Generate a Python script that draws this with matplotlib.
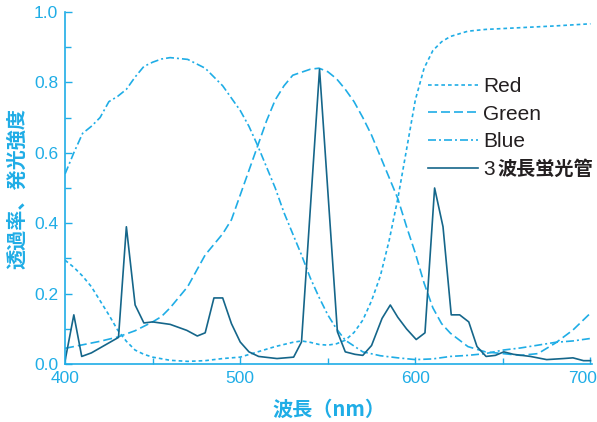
import numpy as np
import matplotlib.pyplot as plt
import matplotlib.transforms as mtransforms
from matplotlib.ticker import MultipleLocator, FormatStrFormatter

CYAN = '#1fade6'
DARK = '#15668a'
TEXT = '#231f20'
CJK = ['Noto Sans CJK JP', 'DejaVu Sans']

# filter transmittance curves (wavelength nm, value)
red_x = [400, 405, 410, 415, 420, 425, 430, 435, 440, 445, 450, 460, 470, 480, 490,
         500, 510, 520, 530, 535, 540, 545, 550, 555, 560, 565, 570, 575, 580, 585,
         590, 595, 600, 605, 610, 615, 620, 630, 640, 660, 680, 700]
red_y = [0.295, 0.275, 0.25, 0.22, 0.18, 0.14, 0.097, 0.065, 0.04, 0.028, 0.02, 0.011,
         0.008, 0.01, 0.016, 0.02, 0.035, 0.05, 0.062, 0.066, 0.062, 0.056, 0.054,
         0.058, 0.068, 0.09, 0.125, 0.18, 0.25, 0.35, 0.47, 0.61, 0.75, 0.84, 0.89,
         0.915, 0.93, 0.945, 0.95, 0.955, 0.96, 0.966]

green_x = [400, 410, 420, 430, 440, 450, 455, 460, 465, 470, 475, 480, 485, 490, 495,
           500, 505, 510, 515, 520, 525, 530, 540, 545, 550, 555, 560, 565, 570, 575,
           580, 585, 590, 595, 600, 605, 610, 615, 620, 630, 640, 650, 660, 670, 680,
           690, 700]
green_y = [0.045, 0.055, 0.065, 0.077, 0.095, 0.12, 0.135, 0.16, 0.19, 0.22, 0.265,
           0.31, 0.34, 0.37, 0.41, 0.48, 0.55, 0.62, 0.69, 0.75, 0.79, 0.82, 0.837,
           0.84, 0.83, 0.81, 0.78, 0.745, 0.70, 0.65, 0.59, 0.53, 0.47, 0.39, 0.315,
           0.23, 0.16, 0.115, 0.088, 0.05, 0.035, 0.03, 0.025, 0.03, 0.06, 0.097, 0.145]

blue_x = [400, 405, 410, 415, 420, 425, 430, 435, 440, 445, 450, 455, 460, 470, 480,
          490, 500, 505, 510, 515, 520, 525, 530, 535, 540, 545, 550, 555, 560, 570,
          580, 590, 600, 610, 620, 630, 640, 650, 660, 670, 680, 690, 700]
blue_y = [0.54, 0.6, 0.655, 0.675, 0.70, 0.745, 0.76, 0.78, 0.815, 0.845, 0.857, 0.866,
          0.87, 0.865, 0.84, 0.79, 0.72, 0.675, 0.62, 0.56, 0.50, 0.43, 0.37, 0.31,
          0.245, 0.19, 0.14, 0.10, 0.068, 0.035, 0.024, 0.018, 0.013, 0.015, 0.022,
          0.025, 0.03, 0.04, 0.046, 0.054, 0.062, 0.066, 0.073]

# three-band fluorescent lamp emission
lamp_x = [400, 405, 409.5, 415, 430.5, 435, 440, 445, 450, 460, 469.5, 475.5, 480,
          485, 490, 495, 500, 505, 510.5, 521, 530.5, 535, 545.3, 555.5, 560, 565.5,
          570, 575, 581, 585.7, 590, 595, 600.5, 605.5, 611, 615.8, 620.5, 625.3,
          630.5, 635.2, 640.4, 645.7, 650.5, 656, 665.7, 675, 684.6, 690, 696, 700]
lamp_y = [0.01, 0.14, 0.022, 0.032, 0.076, 0.39, 0.168, 0.117, 0.12, 0.113, 0.096,
          0.08, 0.089, 0.188, 0.188, 0.115, 0.063, 0.035, 0.022, 0.016, 0.02, 0.063,
          0.837, 0.092, 0.035, 0.028, 0.025, 0.053, 0.13, 0.168, 0.133, 0.1, 0.07,
          0.089, 0.5, 0.39, 0.14, 0.14, 0.12, 0.05, 0.022, 0.025, 0.035, 0.028, 0.022,
          0.013, 0.016, 0.018, 0.01, 0.01]

plt.rcParams['font.family'] = ['Liberation Sans', 'DejaVu Sans']

fig = plt.figure(figsize=(5.97, 4.22), dpi=100)
ax = fig.add_axes([0.109, 0.137, 0.883, 0.835])

ax.plot(red_x, red_y, color=CYAN, lw=1.2, linestyle=(0, (2.2, 1.8)), label='Red')
ax.plot(green_x, green_y, color=CYAN, lw=1.2, linestyle=(0, (5.4, 2.4)), label='Green')
ax.plot(blue_x, blue_y, color=CYAN, lw=1.2, linestyle=(0, (4.8, 1.8, 1.2, 1.8)), label='Blue')
ax.plot(lamp_x, lamp_y, color=DARK, lw=1.2, label='3')

ax.set_xlim(400, 701)
ax.set_ylim(0, 1.0)
ax.xaxis.set_major_locator(MultipleLocator(100))
ax.xaxis.set_minor_locator(MultipleLocator(50))
ax.yaxis.set_major_locator(MultipleLocator(0.2))
ax.yaxis.set_minor_locator(MultipleLocator(0.1))
ax.yaxis.set_major_formatter(FormatStrFormatter('%.1f'))

for side in ['top', 'right']:
    ax.spines[side].set_visible(False)
for side in ['left', 'bottom']:
    ax.spines[side].set_color(CYAN)
    ax.spines[side].set_linewidth(1.2)
ax.tick_params(which='both', direction='in', color=CYAN, width=1.0,
               labelcolor=CYAN, labelsize=12.5, pad=5)
ax.tick_params(which='major', length=5)
ax.tick_params(which='minor', length=4)

ax.set_xlabel('波長（nm）', family=CJK, fontweight='bold', color=CYAN, fontsize=14.5,
              labelpad=9)
ax.set_ylabel('透過率、発光強度', family=CJK, fontweight='bold', color=CYAN, fontsize=14.5,
              labelpad=5)

leg = ax.legend(loc='upper left', bbox_to_anchor=(0.672, 0.839), frameon=False,
                fontsize=15, handlelength=2.4, handletextpad=0.25, labelspacing=0.42,
                borderaxespad=0)
for t in leg.get_texts():
    t.set_color(TEXT)

fig.canvas.draw()

# keep the last x tick label inside the figure
last = [lb for lb in ax.get_xticklabels() if lb.get_text() == '700']
for lb in last:
    lb.set_transform(lb.get_transform() +
                     mtransforms.ScaledTranslation(-6 / 72, 0, fig.dpi_scale_trans))

# bold kanji after the "3" in the lamp entry
bb = leg.get_texts()[-1].get_window_extent()
fig.text(bb.x1 + 3, bb.y0 + 0.5 * bb.height, '波長蛍光管', transform=None,
         ha='left', va='center', family=CJK, fontweight='bold', fontsize=13.8, color=TEXT)

fig.savefig('out.png', dpi=100)
